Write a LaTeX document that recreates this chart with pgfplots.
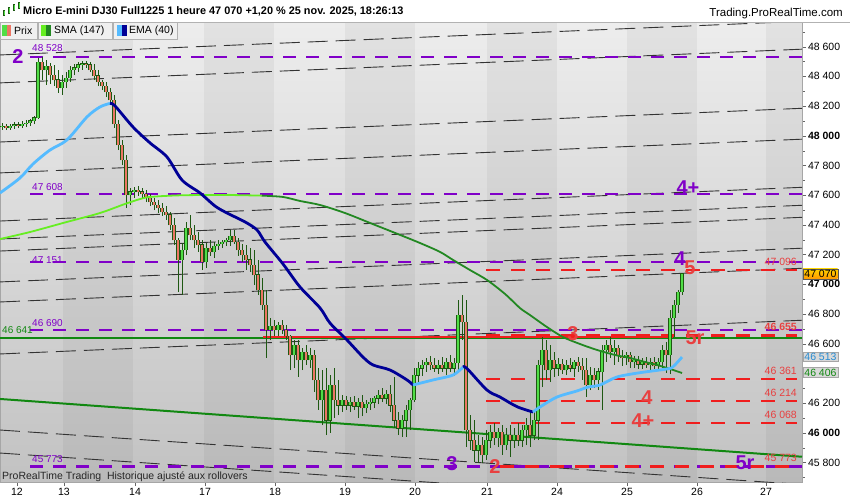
\documentclass[border=0pt]{standalone}
\usepackage{fontspec}
\setmainfont{Liberation Sans}
\usepackage{pgfplots}
\pgfplotsset{compat=1.18}
\usepackage{pgfplotstable}
\definecolor{cdk}{RGB}{30,88,18}
\definecolor{cup}{RGB}{80,222,70}
\definecolor{cdn}{RGB}{236,118,100}
\definecolor{smaL}{RGB}{102,238,34}
\definecolor{smaD}{RGB}{34,136,34}
\definecolor{emaL}{RGB}{85,187,255}
\definecolor{emaD}{RGB}{0,0,150}
\definecolor{purp}{RGB}{128,0,200}
\definecolor{redl}{RGB}{240,30,30}
\definecolor{redt}{RGB}{232,64,64}
\definecolor{grnH}{RGB}{17,136,17}
\definecolor{bgT}{RGB}{237,237,237}
\definecolor{bgB}{RGB}{194,194,194}
\definecolor{boxf}{RGB}{240,240,240}

\pgfplotstableread{
x o h l c
2 48059 48086 48039 48066
6 48066 48079 48039 48053
10 48053 48079 48039 48066
14 48066 48093 48046 48073
18 48073 48093 48053 48066
22 48066 48100 48053 48079
26 48079 48106 48059 48086
30 48086 48113 48066 48100
34 48100 48133 48079 48120
38 48120 48524 48113 48497
42 48497 48528 48376 48443
46 48443 48510 48342 48470
50 48470 48490 48349 48409
54 48409 48477 48335 48376
58 48376 48443 48288 48322
62 48322 48409 48275 48362
66 48362 48430 48322 48389
70 48389 48470 48362 48443
74 48443 48484 48409 48457
78 48457 48497 48430 48477
82 48477 48504 48443 48484
86 48484 48504 48457 48477
90 48477 48497 48430 48443
94 48443 48484 48376 48403
98 48403 48443 48335 48362
102 48362 48376 48308 48335
106 48335 48362 48261 48295
110 48295 48322 48214 48241
114 48241 48275 48053 48079
118 48079 48106 47904 47938
122 47938 47972 47803 47837
126 47837 47871 47514 47601
130 47601 47648 47534 47622
134 47622 47655 47581 47635
138 47635 47662 47595 47622
142 47622 47648 47581 47608
146 47608 47635 47554 47581
150 47581 47608 47527 47554
154 47554 47581 47500 47534
158 47534 47568 47480 47514
162 47514 47547 47460 47487
166 47487 47527 47433 47467
170 47467 47487 47366 47399
174 47399 47446 47265 47298
178 47298 47312 46948 47164
182 47164 47278 46928 47231
186 47231 47420 47197 47379
190 47379 47467 47298 47332
194 47332 47399 47244 47298
198 47298 47352 47218 47265
202 47265 47298 47096 47150
206 47150 47278 47110 47244
210 47244 47298 47191 47218
214 47218 47285 47177 47258
218 47258 47298 47231 47271
222 47271 47298 47244 47285
226 47285 47312 47258 47298
230 47298 47366 47258 47325
234 47325 47366 47271 47285
238 47285 47312 47191 47231
242 47231 47271 47150 47197
246 47197 47265 47096 47164
250 47164 47244 47083 47130
254 47130 47231 46995 47063
258 47063 47164 46928 46962
262 46962 47042 46827 46861
266 46861 46962 46504 46692
270 46692 46773 46625 46719
274 46719 46760 46652 46692
278 46692 46746 46652 46726
282 46726 46760 46665 46692
286 46692 46726 46625 46652
290 46652 46659 46423 46524
294 46524 46625 46436 46591
298 46591 46625 46376 46490
302 46490 46571 46423 46544
306 46544 46591 46457 46490
310 46490 46571 46436 46524
314 46524 46558 46275 46356
318 46356 46436 46154 46221
322 46221 46423 46052 46288
326 46288 46436 45985 46086
330 46086 46389 45999 46322
334 46322 46436 46100 46221
338 46221 46356 46120 46187
342 46187 46255 46140 46221
346 46221 46248 46154 46187
350 46187 46241 46140 46207
354 46207 46248 46154 46180
358 46180 46234 46100 46207
362 46207 46255 46113 46167
366 46167 46221 46133 46194
370 46194 46234 46154 46207
374 46207 46248 46167 46234
378 46234 46288 46194 46255
382 46255 46302 46207 46234
386 46234 46288 46194 46261
390 46261 46322 46140 46187
394 46187 46376 46032 46086
398 46086 46140 45985 46032
402 46032 46120 45972 46086
406 46086 46187 45972 46154
410 46154 46234 46019 46221
414 46221 46436 46207 46389
418 46389 46477 46322 46436
422 46436 46490 46383 46457
426 46457 46504 46410 46477
430 46477 46517 46423 46457
434 46457 46504 46410 46436
438 46436 46490 46396 46457
442 46457 46510 46410 46436
446 46436 46504 46389 46477
450 46477 46524 46410 46436
454 46436 46504 46383 46470
458 46470 46894 46423 46793
462 46793 46928 46625 46746
466 46746 46894 45904 46019
470 46019 46120 45884 45951
474 45951 46086 45803 45884
478 45884 45985 45797 45918
482 45918 45972 45797 45851
486 45851 46019 45817 45951
490 45951 46052 45898 46005
494 46005 46066 45918 45965
498 45965 46032 45904 46005
502 46005 46052 45851 45918
506 45918 46032 45884 45985
510 45985 46052 45837 45951
514 45951 46032 45898 45985
518 45985 46066 45911 45951
522 45951 46052 45904 46019
526 46019 46100 45918 46052
530 46052 46140 45904 45985
534 45985 46140 45951 46086
538 46086 46490 45951 46457
542 46457 46645 46308 46558
546 46558 46625 46356 46423
550 46423 46591 46342 46490
554 46490 46544 46376 46436
558 46436 46504 46383 46463
562 46463 46497 46396 46423
566 46423 46490 46389 46457
570 46457 46504 46410 46436
574 46436 46490 46376 46477
578 46477 46510 46410 46450
582 46450 46504 46356 46423
586 46423 46504 46241 46322
590 46322 46443 46288 46389
594 46389 46436 46302 46356
598 46356 46436 46288 46410
602 46410 46591 46154 46558
606 46558 46625 46477 46591
610 46591 46645 46504 46544
614 46544 46625 46457 46571
618 46571 46591 46477 46517
622 46517 46558 46450 46504
626 46504 46544 46457 46524
630 46524 46544 46436 46477
634 46477 46517 46436 46490
638 46490 46517 46430 46463
642 46463 46504 46430 46477
646 46477 46510 46436 46457
650 46457 46504 46423 46477
654 46477 46510 46430 46450
658 46450 46504 46423 46477
662 46477 46591 46436 46558
666 46558 46612 46403 46524
670 46524 46827 46396 46773
674 46773 46894 46645 46861
678 46861 46962 46807 46948
682 46948 47076 46928 47070
}\candles

\begin{document}
\begin{tikzpicture}[x=1pt,y=1pt]
\useasboundingbox (0,0) rectangle (850,500);
\fill[white] (0,0) rectangle (850,500);
\begin{axis}[
  at={(0pt,18pt)}, anchor=south west, scale only axis,
  width=802pt, height=460pt,
  xmin=0, xmax=802, ymin=45669, ymax=48766,
  scaled y ticks=false, scaled x ticks=false,
  axis background/.style={top color=bgT, bottom color=bgB},
  clip mode=individual,
  axis line style={draw=gray!70},
  xtick={17,64,135,205,275,345,415,487,557,627,697,766},
  xticklabels={12,13,14,17,18,19,20,21,24,25,26,27},
  ytick={45800,46000,46200,46400,46600,46800,47000,47200,47400,47600,47800,48000,48200,48400,48600},
  yticklabels={45 800,\textbf{46 000},46 200,{},46 600,46 800,\textbf{47 000},47 200,47 400,47 600,47 800,\textbf{48 000},48 200,48 400,48 600},
  minor ytick={45700,45900,46100,46300,46500,46700,46900,47100,47300,47500,47700,47900,48100,48300,48500,48700},
  xtick pos=bottom, ytick pos=right, yticklabel pos=right,
  tick align=outside, major tick length=4pt, minor tick length=2.5pt,
  tick style={draw=gray!80!black},
  ticklabel style={font=\fontsize{10.5}{12}\selectfont, text=black},
  yticklabel style={xshift=-1.5pt},
  xticklabel style={yshift=1pt},
]
% day bands
\fill[black, opacity=0.045] (axis cs:63,45669) rectangle (axis cs:133,48766);
\fill[black, opacity=0.045] (axis cs:204,45669) rectangle (axis cs:274,48766);
\fill[black, opacity=0.045] (axis cs:345,45669) rectangle (axis cs:415,48766);
\fill[black, opacity=0.045] (axis cs:487,45669) rectangle (axis cs:557,48766);
\fill[black, opacity=0.045] (axis cs:627,45669) rectangle (axis cs:697,48766);
\fill[black, opacity=0.045] (axis cs:766,45669) rectangle (axis cs:802,48766);

% channel lines
\pgfplotsset{chan/.style={black!80, line width=0.9pt, dash pattern=on 20pt off 8pt, forget plot}}
\addplot[chan] coordinates {(0,48544) (802,48771)};
\addplot[chan] coordinates {(0,48356) (802,48583)};
\addplot[chan] coordinates {(0,47958) (802,48185)};
\addplot[chan] coordinates {(0,47750) (802,47977)};
\addplot[chan] coordinates {(0,47426) (802,47653)};
\addplot[chan] coordinates {(0,47305) (802,47532)};
\addplot[chan] coordinates {(0,47224) (802,47451)};
\addplot[chan] coordinates {(0,47016) (802,47243)};
\addplot[chan] coordinates {(0,46881) (802,47108)};
\addplot[chan] coordinates {(0,46531) (802,46758)};
\addplot[chan] coordinates {(0,46019) (802,45652)};
\addplot[chan] coordinates {(0,45864) (802,45497)};

% purple levels
\pgfplotsset{pl/.style={purp, line width=2.2pt, dash pattern=on 13pt off 10pt, forget plot}}
\addplot[pl] coordinates {(30,48528) (802,48528)};
\addplot[pl] coordinates {(30,47608) (802,47608)};
\addplot[pl] coordinates {(30,47151) (802,47151)};
\addplot[pl] coordinates {(30,46690) (802,46690)};
\addplot[pl] coordinates {(30,45773) (802,45773)};

% green lines
\addplot[grnH, line width=2pt, forget plot] coordinates {(0,46641) (802,46641)};
\addplot[grnH, line width=2pt, forget plot] coordinates {(0,46228) (802,45839)};
\addplot[redl, line width=2.2pt, forget plot] coordinates {(263,46645) (673,46645)};

% red levels
\pgfplotsset{rl/.style={redl, line width=2.4pt, dash pattern=on 14pt off 11pt, forget plot}}
\addplot[rl] coordinates {(486,47096) (797,47096)};
\addplot[rl] coordinates {(486,46655) (797,46655)};
\addplot[rl] coordinates {(486,46361) (797,46361)};
\addplot[rl] coordinates {(486,46214) (797,46214)};
\addplot[rl] coordinates {(486,46068) (797,46068)};
\addplot[rl] coordinates {(500,45773) (797,45773)};

% candles
\addplot[draw=none, mark=none, forget plot,
  error bars/.cd, y dir=plus, y explicit, error mark=none,
  error bar style={draw=cdk, solid, line width=1pt, line cap=butt}]
  table[x=x, y=l, y error expr=\thisrow{h}-\thisrow{l}] {\candles};
\addplot[draw=none, mark=none, forget plot,
  error bars/.cd, y dir=plus, y explicit, error mark=none,
  error bar style={draw=cdk, solid, line width=3.3pt, line cap=butt}]
  table[x=x, y expr={min(\thisrow{o},\thisrow{c})-3}, y error expr={abs(\thisrow{c}-\thisrow{o})+6}] {\candles};
\addplot[draw=none, mark=none, forget plot,
  error bars/.cd, y dir=plus, y explicit, error mark=none,
  error bar style={draw=cup, solid, line width=2pt, line cap=butt}]
  table[x=x, y expr={\thisrow{c}>=\thisrow{o} ? \thisrow{o} : nan}, y error expr={\thisrow{c}-\thisrow{o}}] {\candles};
\addplot[draw=none, mark=none, forget plot,
  error bars/.cd, y dir=plus, y explicit, error mark=none,
  error bar style={draw=cdn, solid, line width=2pt, line cap=butt}]
  table[x=x, y expr={\thisrow{c}<\thisrow{o} ? \thisrow{c} : nan}, y error expr={\thisrow{o}-\thisrow{c}}] {\candles};

% SMA 147
\addplot[smaL, line width=1.8pt, smooth, forget plot] coordinates {
(0,47305) (30,47352) (67,47420) (100,47480) (125,47541) (140,47574) (150,47588) (175,47598) (200,47601) (230,47601) (262,47597)};
\addplot[smaD, line width=1.8pt, smooth, forget plot] coordinates {
(262,47597) (283,47588) (300,47561) (320,47534) (345,47480) (370,47413) (395,47346) (420,47278) (440,47218) (453,47164) (470,47096) (487,47029) (505,46935) (520,46840) (530,46793) (547,46712) (563,46645) (580,46598) (597,46558) (615,46524) (630,46504) (645,46477) (657,46457) (670,46430) (682,46403)};

% EMA 40
\addplot[emaL, line width=2.8pt, smooth, forget plot] coordinates {
(0,47615) (20,47716) (33,47810) (50,47904) (67,47972) (87,48127) (100,48194) (110,48218)};
\addplot[emaD, line width=2.8pt, smooth, forget plot] coordinates {
(110,48218) (115,48201) (133,48059) (150,47952) (167,47857) (182,47702) (200,47615) (215,47527) (227,47480) (245,47420) (257,47366) (265,47285) (283,47137) (300,46982) (320,46841) (330,46739) (347,46625) (363,46510) (373,46457) (390,46423) (407,46356) (413,46322)};
\addplot[emaL, line width=2.8pt, smooth, forget plot] coordinates {
(413,46322) (433,46356) (453,46389) (463,46443)};
\addplot[emaD, line width=2.8pt, smooth, forget plot] coordinates {
(463,46443) (467,46433) (487,46288) (500,46241) (517,46176) (533,46140)};
\addplot[emaL, line width=2.8pt, smooth, forget plot] coordinates {
(533,46140) (540,46174) (557,46241) (577,46282) (588,46308) (600,46322) (617,46376) (640,46405) (667,46430) (673,46445) (682,46510)};

% labels purple (left)
\tikzset{pv/.style={anchor=west, text=purp, font=\fontsize{10}{11}\selectfont, inner sep=0pt}}
\node[pv] at (axis cs:32,48590) {48 528};
\node[pv] at (axis cs:32,47655) {47 608};
\node[pv] at (axis cs:32,47164) {47 151};
\node[pv] at (axis cs:32,46739) {46 690};
\node[pv] at (axis cs:32,45823) {45 773};
\node[anchor=west, text=grnH, font=\fontsize{10}{11}\selectfont, inner sep=0pt] at (axis cs:2,46692) {46 641};

% red value labels (right)
\tikzset{rv/.style={anchor=east, text=redt, font=\fontsize{10.5}{11}\selectfont, inner sep=0pt}}
\node[rv] at (axis cs:797,47150) {47 096};
\node[rv, font=\bfseries\fontsize{10.5}{11}\selectfont] at (axis cs:797,46712) {46 655};
\node[rv] at (axis cs:797,46416) {46 361};
\node[rv] at (axis cs:797,46268) {46 214};
\node[rv] at (axis cs:797,46120) {46 068};
\node[rv] at (axis cs:797,45830) {45 773};

% big wave labels
\tikzset{bp/.style={text=purp, font=\bfseries\fontsize{20}{21}\selectfont, inner sep=0pt},
         br/.style={text=redt, font=\bfseries\fontsize{20}{21}\selectfont, inner sep=0pt}}
\node[bp] at (axis cs:18,48531) {2};
\node[bp] at (axis cs:688,47649) {4+};
\node[bp] at (axis cs:680,47170) {4};
\node[bp] at (axis cs:452,45790) {3};
\node[bp] at (axis cs:745,45797) {5r};
\node[br] at (axis cs:690,47110) {5};
\node[br] at (axis cs:573,46665) {3};
\node[br] at (axis cs:695,46638) {5r};
\node[br] at (axis cs:647,46234) {4};
\node[br] at (axis cs:643,46079) {4+};
\node[br] at (axis cs:495,45770) {2};

% footer text
\node[anchor=west, text=black!85, font=\fontsize{10.5}{12}\selectfont, inner sep=0pt] at (axis cs:2,45702) {ProRealTime Trading\ \ Historique ajusté aux rollovers};

% price badges
\node[anchor=west, draw=gray!70!black, top color=yellow!40!orange!60!yellow, bottom color=orange!80!yellow, font=\fontsize{10.5}{12}\selectfont, inner sep=1.2pt] at (axis cs:803,47070) {47 070};
\node[anchor=west, draw=gray!70, fill=gray!30, text={rgb,255:red,40;green,140;blue,210}, font=\fontsize{10.5}{12}\selectfont, inner sep=1.2pt] at (axis cs:803,46513) {46 513};
\node[anchor=west, draw=gray!70, fill=gray!30, text=grnH, font=\fontsize{10.5}{12}\selectfont, inner sep=1.2pt] at (axis cs:803,46406) {46 406};
\end{axis}

% header
\fill[white] (0,478) rectangle (850,500);
\draw[gray!60] (0,478) -- (850,478);
\fill[cdk] (3,484) rectangle (5,490);
\fill[cup] (3.5,485) rectangle (4.5,489);
\fill[cdk] (8,486) rectangle (10,493);
\fill[cup] (8.5,487) rectangle (9.5,492);
\fill[cdk] (13,489) rectangle (15,496);
\fill[cup] (13.5,490) rectangle (14.5,495);
\fill[cdk] (18,491) rectangle (20,498);
\fill[cup] (18.5,492) rectangle (19.5,497);
\node[anchor=west, inner sep=0pt, font=\bfseries\fontsize{10.9}{12}\selectfont] at (23,488.5) {Micro E-mini DJ30 Full1225 1 heure 47 070 +1,20 \% 25 nov. 2025, 18:26:13};
\node[anchor=east, inner sep=0pt, font=\fontsize{11.5}{13}\selectfont] at (843,486) {Trading.ProRealTime.com};

% legend boxes
\filldraw[fill=boxf, draw=gray!60] (0,461) rectangle (37,478);
\fill[cup] (2,464) rectangle (6.5,475);
\fill[cdn] (6.5,464) rectangle (11,475);
\node[anchor=west, inner sep=0pt, font=\fontsize{10.5}{12}\selectfont] at (14,469.5) {Prix};
\filldraw[fill=boxf, draw=gray!60] (38,461) rectangle (112,478);
\fill[smaL] (41,464) rectangle (46,475);
\fill[smaD] (46,464) rectangle (51,475);
\node[anchor=west, inner sep=0pt, font=\fontsize{10.5}{12}\selectfont] at (54,469.5) {SMA (147)};
\filldraw[fill=boxf, draw=gray!60] (113,461) rectangle (177,478);
\fill[emaL] (117,464) rectangle (122,475);
\fill[emaD] (122,464) rectangle (127,475);
\node[anchor=west, inner sep=0pt, font=\fontsize{10.5}{12}\selectfont] at (129,469.5) {EMA (40)};
\end{tikzpicture}
\end{document}
